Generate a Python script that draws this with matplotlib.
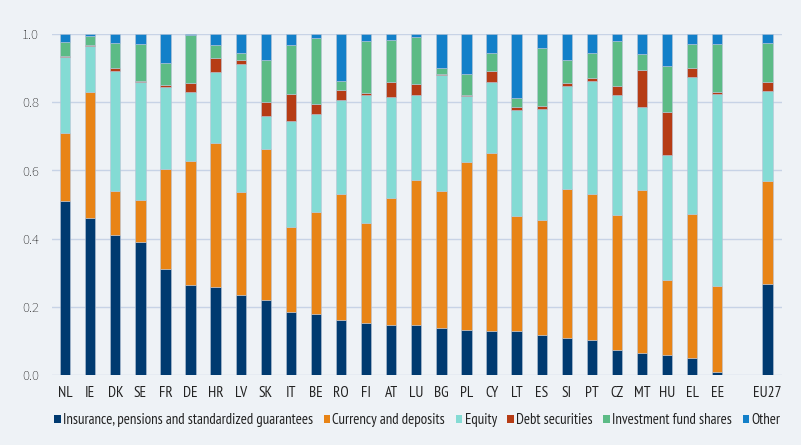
import matplotlib
matplotlib.use("Agg")
import matplotlib.pyplot as plt
import numpy as np
from matplotlib.patches import Patch

countries = ["NL", "IE", "DK", "SE", "FR", "DE", "HR", "LV", "SK", "IT", "BE", "RO", "FI",
             "AT", "LU", "BG", "PL", "CY", "LT", "ES", "SI", "PT", "CZ", "MT", "HU", "EL", "EE", "EU27"]

# cumulative tops
top_insurance = [0.510, 0.460, 0.411, 0.389, 0.312, 0.265, 0.257, 0.236, 0.221, 0.184, 0.179, 0.161, 0.152,
                 0.148, 0.146, 0.138, 0.131, 0.130, 0.129, 0.117, 0.108, 0.102, 0.074, 0.065, 0.060, 0.051, 0.009, 0.268]
top_currency = [0.711, 0.831, 0.541, 0.514, 0.604, 0.627, 0.680, 0.538, 0.664, 0.435, 0.479, 0.530, 0.447,
                0.518, 0.573, 0.539, 0.626, 0.651, 0.467, 0.456, 0.546, 0.532, 0.469, 0.542, 0.280, 0.473, 0.262, 0.569]
top_equity = [0.933, 0.964, 0.892, 0.858, 0.845, 0.829, 0.888, 0.913, 0.759, 0.745, 0.765, 0.806, 0.821,
              0.816, 0.820, 0.879, 0.817, 0.859, 0.778, 0.779, 0.847, 0.861, 0.821, 0.786, 0.645, 0.874, 0.824, 0.834]
top_debt = [0.936, 0.968, 0.900, 0.863, 0.851, 0.856, 0.931, 0.925, 0.800, 0.825, 0.794, 0.836, 0.827,
            0.860, 0.854, 0.884, 0.821, 0.892, 0.787, 0.789, 0.857, 0.871, 0.848, 0.895, 0.772, 0.900, 0.829, 0.860]
top_fund = [0.976, 0.995, 0.974, 0.971, 0.915, 0.998, 0.968, 0.944, 0.924, 0.968, 0.987, 0.862, 0.979,
            0.981, 0.990, 0.900, 0.884, 0.944, 0.811, 0.960, 0.924, 0.944, 0.979, 0.941, 0.906, 0.972, 0.972, 0.974]
top_other = [1.0] * 28

series_names = ["Insurance, pensions and standardized guarantees", "Currency and deposits", "Equity",
                "Debt securities", "Investment fund shares", "Other"]
colors = ["#003a70", "#e88416", "#84dbd4", "#b63c15", "#5cbb86", "#1380c9"]

tops = np.array([top_insurance, top_currency, top_equity, top_debt, top_fund, top_other])
bottoms = np.vstack([np.zeros(len(countries)), tops[:-1]])
heights = tops - bottoms

positions = [i for i in range(27)] + [28]

narrow = ["PT Sans Narrow", "DejaVu Sans"]
regular = ["Source Sans 3", "DejaVu Sans"]

bg = "#eef2f6"
fig = plt.figure(figsize=(8.01, 4.45), dpi=100, facecolor=bg)
ax = fig.add_axes([0.065, 0.157, 0.911, 0.7666])
ax.set_facecolor(bg)

for k in range(6):
    ax.bar(positions, heights[k], bottom=bottoms[k], width=0.41, color=colors[k],
           edgecolor="#b8c4d6", linewidth=0.4, zorder=3)

ax.set_ylim(0, 1.0)
ax.set_xlim(-0.52, 28.57)
ax.set_yticks([0.0, 0.2, 0.4, 0.6, 0.8, 1.0])
ax.set_yticklabels(["0.0", "0.2", "0.4", "0.6", "0.8", "1.0"])
ax.set_xticks(positions)
ax.set_xticklabels(countries)
ax.yaxis.grid(True, color="#c7d3e6", linewidth=1.0, zorder=0)
ax.xaxis.grid(False)
for s in ax.spines.values():
    s.set_visible(False)
ax.tick_params(axis="both", length=0, colors="#222222")
ax.tick_params(axis="y", pad=9.5)
ax.tick_params(axis="x", pad=8)
for lbl in ax.get_xticklabels():
    lbl.set_family(narrow)
    lbl.set_fontsize(11)
for lbl in ax.get_yticklabels():
    lbl.set_family(regular)
    lbl.set_fontsize(10.5)

handles = [Patch(facecolor=c, edgecolor="none") for c in colors]
leg = fig.legend(handles, series_names, loc="center", bbox_to_anchor=(0.521, 0.056), ncol=6,
                 frameon=False, handlelength=0.44, handleheight=0.44, handletextpad=0.14,
                 columnspacing=0.72, borderaxespad=0, prop={"family": narrow, "size": 10.7})
for t in leg.get_texts():
    t.set_color("#222222")

fig.savefig("out.png", dpi=100, facecolor=bg)
